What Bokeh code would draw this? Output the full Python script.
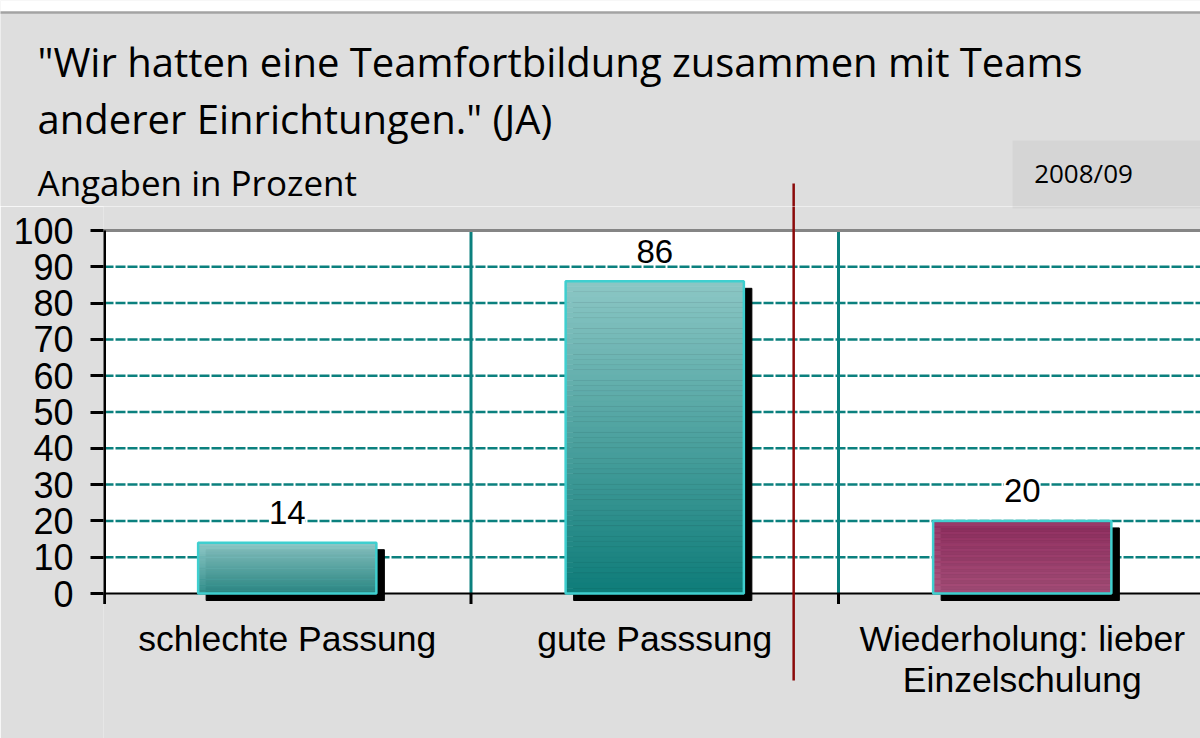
import numpy as np
from bokeh.plotting import figure
from bokeh.layouts import column
from bokeh.models import Range1d, FixedTicker, Label, LabelSet, ColumnDataSource
from bokeh.core.properties import value
from bokeh.embed import file_html
from bokeh.resources import INLINE

# ---- data ----
categories = ["schlechte Passung", "gute Passsung", "Wiederholung: lieber\nEinzelschulung"]
values = [14, 86, 20]
top_colors = ["#8cc7c5", "#8cc7c5", "#923061"]
bottom_colors = ["#2c8a87", "#0e7c79", "#a64f7a"]
y_ticks = [0, 10, 20, 30, 40, 50, 60, 70, 80, 90, 100]
title_line1 = "\"Wir hatten eine Teamfortbildung zusammen mit Teams"
title_line2 = "anderer Einrichtungen.\" (JA)"
subtitle = "Angaben in Prozent"
period = "2008/09"
separator_pos = 1.878

BG = "#dedede"
TEAL = "#0b807e"

W, H = 1200, 738
LEFT = 103          # left edge of plot area (px)
SPLIT = 206         # header / chart split (px)
PX_X = 367.5        # pixels per category
PX_Y = 3.63         # pixels per percent
Y0 = 593            # pixel row of value 0


def dxp(px):
    return (px - LEFT) / PX_X


def dyp(py):
    return (Y0 - py) / PX_Y


xmax = 3.2

# ---------------- header ----------------
hf = figure(width=W, height=SPLIT, x_range=Range1d(dxp(0), dxp(W)), y_range=Range1d(dyp(SPLIT), dyp(0)),
            output_backend="svg", toolbar_location=None, x_axis_location=None, y_axis_location=None,
            min_border_left=0, min_border_right=0, min_border_top=0, min_border_bottom=0)
hf.frame_align = False
hf.background_fill_color = BG
hf.border_fill_color = BG
hf.outline_line_color = None
hf.grid.visible = False

hf.quad(left=[dxp(-10)], right=[xmax], bottom=[dyp(12)], top=[dyp(-10)], fill_color="white", line_color=None)
hf.segment(x0=[dxp(-10)], y0=[dyp(12)], x1=[xmax], y1=[dyp(12)], line_color="#a3a3a3", line_width=2.5)
hf.quad(left=[dxp(1012)], right=[xmax], bottom=[dyp(208)], top=[dyp(140)],
        fill_color="#d5d5d5", line_color=None)
hf.segment(x0=[separator_pos], y0=[dyp(183)], x1=[separator_pos], y1=[dyp(SPLIT + 5)],
           line_color="#8b0a0a", line_width=2.5)
hf.add_layout(Label(x=dxp(1083), y=dyp(172), text=period, text_align="center",
                    text_baseline="middle", text_font="Open Sans", text_font_size="26px",
                    text_color="black"))
for txt, py, fs in [(title_line1, 61, "40px"), (title_line2, 118, "40px"), (subtitle, 182, "35px")]:
    hf.add_layout(Label(x=dxp(37), y=dyp(py), text=txt, text_align="left",
                        text_baseline="middle", text_font="Open Sans", text_font_size=fs,
                        text_color="black"))

# ---------------- chart ----------------
p = figure(width=W, height=H - SPLIT,
           x_range=Range1d(0, dxp(W)), y_range=Range1d(dyp(H), dyp(SPLIT)),
           output_backend="svg", toolbar_location=None, x_axis_location=None,
           min_border_left=LEFT, min_border_right=0, min_border_top=0, min_border_bottom=0)
p.frame_align = False
p.background_fill_color = BG
p.border_fill_color = BG
p.outline_line_color = None
p.grid.visible = False

n_cat = len(categories)
xc = [i + 0.5 for i in range(n_cat)]
bounds = list(range(1, n_cat))

# rest of the period box
p.quad(left=[dxp(1012)], right=[xmax], bottom=[dyp(208)], top=[dyp(140)],
       fill_color="#d5d5d5", line_color=None)
# white plot area
p.quad(left=[0], right=[xmax], bottom=[0], top=[100], fill_color="white", line_color=None)

# horizontal grid lines
gl = y_ticks[1:-1]
p.segment(x0=[0] * len(gl), y0=gl, x1=[xmax] * len(gl), y1=gl,
          line_color=TEAL, line_width=2.5, line_dash="10 2")
# vertical category separators
p.segment(x0=bounds, y0=[0] * len(bounds), x1=bounds, y1=[100] * len(bounds),
          line_color=TEAL, line_width=3)
# top border of plot area
p.segment(x0=[0], y0=[100], x1=[xmax], y1=[100], line_color="#858585", line_width=3)
# x ticks below zero
tk = list(range(0, n_cat))
p.segment(x0=tk, y0=[0] * len(tk), x1=tk, y1=[-2.9] * len(tk), line_color="black", line_width=3)
# zero line and y axis line
p.segment(x0=[0], y0=[0], x1=[xmax], y1=[0], line_color="black", line_width=2)
p.segment(x0=[0], y0=[-2.9], x1=[0], y1=[100], line_color="black", line_width=5)

bw = 0.485
sdx = 8 / PX_X
sdy = 7 / PX_Y
# shadows
p.quad(left=[x - bw / 2 + sdx for x in xc], right=[x + bw / 2 + sdx for x in xc],
       bottom=[-sdy] * n_cat, top=[v - sdy for v in values],
       fill_color="black", line_color="black", line_width=1)

# gradient bars
N = 60
for x, v, ct, cb in zip(xc, values, top_colors, bottom_colors):
    c0 = np.array([int(cb[i:i + 2], 16) for i in (1, 3, 5)], float)
    c1 = np.array([int(ct[i:i + 2], 16) for i in (1, 3, 5)], float)
    fr = (np.arange(N) + 0.5) / N
    cols = ["#%02x%02x%02x" % tuple(int(round(c)) for c in (c0 + (c1 - c0) * f)) for f in fr]
    edges = np.linspace(0, v, N + 1)
    p.quad(left=[x - bw / 2] * N, right=[x + bw / 2] * N, bottom=edges[:-1], top=edges[1:],
           fill_color=cols, line_color=cols, line_width=0.6)
p.quad(left=[x - bw / 2 for x in xc], right=[x + bw / 2 for x in xc], bottom=[0] * n_cat,
       top=values, fill_color=None, line_color="#3fcfcf", line_width=2.5)

# dark red separator
p.segment(x0=[separator_pos], y0=[dyp(SPLIT - 5)], x1=[separator_pos], y1=[dyp(680)],
          line_color="#8b0a0a", line_width=2.5)

# value labels
src = ColumnDataSource(dict(x=xc, y=values, t=[str(v) for v in values]))
p.add_layout(LabelSet(x="x", y="y", text="t", source=src, y_offset=30, text_align="center",
                      text_baseline="middle", text_font=value("Liberation Sans"),
                      text_font_size=value("33px"), text_color="black",
                      background_fill_color="white"))

# category labels
p.text(x=xc, y=[dyp(618)] * n_cat, text=categories, text_align="center", text_baseline="top",
       text_font=value("Liberation Sans"), text_font_size=value("35.5px"), text_color="black",
       text_line_height=1.03)

# y axis
p.yaxis.ticker = FixedTicker(ticks=y_ticks)
p.yaxis.major_label_text_font = "Liberation Sans"
p.yaxis.major_label_text_font_size = "36px"
p.yaxis.major_label_text_color = "black"
p.yaxis.axis_line_color = None
p.yaxis.major_tick_line_width = 3
p.yaxis.major_tick_out = 13
p.yaxis.major_tick_in = 0
p.yaxis.minor_tick_line_color = None
p.yaxis.major_label_standoff = 17

layout = column(hf, p, spacing=0)
open("out.html", "w").write(file_html(layout, INLINE))
